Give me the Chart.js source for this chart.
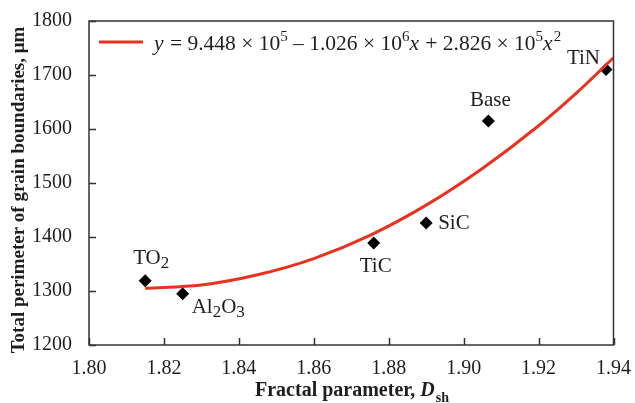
<!DOCTYPE html>
<html>
<head>
<meta charset="utf-8">
<script src="https://cdn.jsdelivr.net/npm/chart.js@4/dist/chart.umd.min.js"></script>
<style>
  html, body { margin: 0; padding: 0; background: #fff; }
  #wrap { width: 635px; height: 403px; position: relative; }
</style>
</head>
<body>
<div id="wrap"><canvas id="c" width="635" height="403"></canvas></div>
<script>
// ---- data ----
const pointLabels = ['TO2', 'Al2O3', 'TiC', 'SiC', 'Base', 'TiN'];
const pointX = [1.815, 1.825, 1.876, 1.890, 1.9066, 1.938];
const pointY = [1319, 1295, 1389, 1426, 1615, 1710];

const fitX = [1.815, 1.83, 1.845, 1.86, 1.875, 1.89, 1.905, 1.92, 1.93, 1.94];
const fitY = [1305, 1311, 1330, 1360, 1403, 1459, 1527, 1606, 1666, 1732];

const xTicks = [1.80, 1.82, 1.84, 1.86, 1.88, 1.90, 1.92, 1.94];
const yTicks = [1200, 1300, 1400, 1500, 1600, 1700, 1800];

const xTitle = ['Fractal parameter, ', 'D', 'sh'];
const yTitle = 'Total perimeter of grain boundaries, \u03bcm';
// legend equation parts: [text, style]  style: n normal, i italic, s superscript
const legendParts = [['y', 'i'], [' = 9.448 \u00d7 10', 'n'], ['5', 's'], [' \u2013 1.026 \u00d7 10', 'n'], ['6', 's'],
  ['x', 'i'], [' + 2.826 \u00d7 10', 'n'], ['5', 's'], ['x', 'i'], ['2', 's']];

const SERIF = '"Liberation Serif", "DejaVu Serif", serif';
const RED = '#e8321f';
const INK = '#1e1e1e';

// label placement relative to the marker
const labelPlace = {
  'TO2':   { dx: 6,  dy: -22, align: 'center' },
  'Al2O3': { dx: 9,  dy: 14,  align: 'left' },
  'TiC':   { dx: 2,  dy: 24,  align: 'center' },
  'SiC':   { dx: 12, dy: 1,   align: 'left' },
  'Base':  { dx: 2,  dy: -20, align: 'center' },
  'TiN':   { dx: -6, dy: -11, align: 'right' }
};

function splitChem(s) {
  const parts = [];
  for (const ch of s) {
    const sub = /[0-9]/.test(ch);
    if (parts.length && parts[parts.length - 1].sub === sub) parts[parts.length - 1].t += ch;
    else parts.push({ t: ch, sub });
  }
  return parts;
}

const decor = {
  id: 'decor',
  afterDatasetsDraw(chart) {
    const ctx = chart.ctx;
    const a = chart.chartArea;
    const xs = chart.scales.x, ys = chart.scales.y;
    ctx.save();
    // frame
    ctx.strokeStyle = '#333';
    ctx.lineWidth = 1.5;
    ctx.strokeRect(a.left, a.top, a.right - a.left, a.bottom - a.top);
    // inward ticks
    ctx.beginPath();
    xTicks.forEach(v => {
      const px = Math.round(xs.getPixelForValue(v)) + 0.5;
      ctx.moveTo(px, a.bottom); ctx.lineTo(px, a.bottom - 7);
    });
    yTicks.forEach(v => {
      const py = Math.round(ys.getPixelForValue(v)) + 0.5;
      ctx.moveTo(a.left, py); ctx.lineTo(a.left + 7, py);
    });
    ctx.stroke();

    // point labels
    const meta = chart.getDatasetMeta(1);
    ctx.fillStyle = INK;
    ctx.textBaseline = 'middle';
    meta.data.forEach((el, i) => {
      const lab = pointLabels[i];
      const pl = labelPlace[lab];
      const parts = splitChem(lab);
      const big = '21px ' + SERIF, small = '17px ' + SERIF;
      let w = 0;
      parts.forEach(p => { ctx.font = p.sub ? small : big; p.w = ctx.measureText(p.t).width; w += p.w; });
      let x = el.x + pl.dx;
      if (pl.align === 'center') x -= w / 2;
      else if (pl.align === 'right') x -= w;
      const y = el.y + pl.dy;
      ctx.textAlign = 'left';
      parts.forEach(p => {
        ctx.font = p.sub ? small : big;
        ctx.fillText(p.t, x, p.sub ? y + 5 : y);
        x += p.w;
      });
    });

    // legend
    ctx.strokeStyle = RED;
    ctx.lineWidth = 3;
    ctx.beginPath(); ctx.moveTo(99, 42); ctx.lineTo(143, 42); ctx.stroke();
    let lx = 154; const base = 50;
    ctx.textBaseline = 'alphabetic';
    ctx.fillStyle = INK;
    legendParts.forEach(([t, st]) => {
      if (st === 's') { ctx.font = '15px ' + SERIF; ctx.fillText(t, lx, base - 9); }
      else if (st === 'i') { ctx.font = 'italic 21.5px ' + SERIF; ctx.fillText(t, lx, base); }
      else { ctx.font = '21.5px ' + SERIF; ctx.fillText(t, lx, base); }
      lx += ctx.measureText(t).width + (st === 'i' ? 1 : 0);
    });

    // axis titles
    ctx.fillStyle = INK;
    ctx.font = 'bold 19px ' + SERIF;
    ctx.save();
    ctx.translate(19, 190);
    ctx.rotate(-Math.PI / 2);
    ctx.textAlign = 'center';
    ctx.textBaseline = 'middle';
    ctx.fillText(yTitle, 0, 0);
    ctx.restore();

    const f1 = 'bold 20px ' + SERIF, f2 = 'bold italic 20px ' + SERIF, f3 = 'bold 14px ' + SERIF;
    ctx.font = f1; const w1 = ctx.measureText(xTitle[0]).width;
    ctx.font = f2; const w2 = ctx.measureText(xTitle[1]).width;
    let tx = 255;
    const ty = 396;
    ctx.textAlign = 'left'; ctx.textBaseline = 'alphabetic';
    ctx.font = f1; ctx.fillText(xTitle[0], tx, ty); tx += w1;
    ctx.font = f2; ctx.fillText(xTitle[1], tx, ty); tx += w2 + 1;
    ctx.font = f3; ctx.fillText(xTitle[2], tx, ty + 6);
    ctx.restore();
  }
};

new Chart(document.getElementById('c'), {
  type: 'scatter',
  data: {
    datasets: [
      {
        type: 'line',
        data: fitX.map((x, i) => ({ x, y: fitY[i] })),
        borderColor: RED,
        borderWidth: 3,
        pointRadius: 0,
        cubicInterpolationMode: 'monotone',
        fill: false
      },
      {
        data: pointX.map((x, i) => ({ x, y: pointY[i] })),
        pointStyle: 'rectRot',
        pointRadius: 6.5,
        backgroundColor: '#000',
        borderColor: '#000',
        borderWidth: 0
      }
    ]
  },
  options: {
    responsive: false,
    animation: false,
    devicePixelRatio: 1,
    layout: { padding: { top: 18, right: 15, left: 0, bottom: 0 } },
    plugins: { legend: { display: false }, tooltip: { enabled: false } },
    scales: {
      x: {
        type: 'linear', min: 1.80, max: 1.94,
        afterBuildTicks: s => { s.ticks = xTicks.map(v => ({ value: v })); },
        afterFit: s => { s.height = 58; },
        grid: { display: false },
        border: { display: false },
        ticks: {
          padding: 4,
          color: INK,
          font: { family: SERIF, size: 20 },
          callback: v => Number(v).toFixed(2),
          maxRotation: 0, autoSkip: false
        }
      },
      y: {
        type: 'linear', min: 1200, max: 1800,
        afterBuildTicks: s => { s.ticks = yTicks.map(v => ({ value: v })); },
        afterFit: s => { s.width = 89; },
        grid: { display: false },
        border: { display: false },
        ticks: {
          padding: 9,
          color: INK,
          font: { family: SERIF, size: 20 },
          callback: v => String(v),
          autoSkip: false
        }
      }
    }
  },
  plugins: [decor]
});
</script>
</body>
</html>
